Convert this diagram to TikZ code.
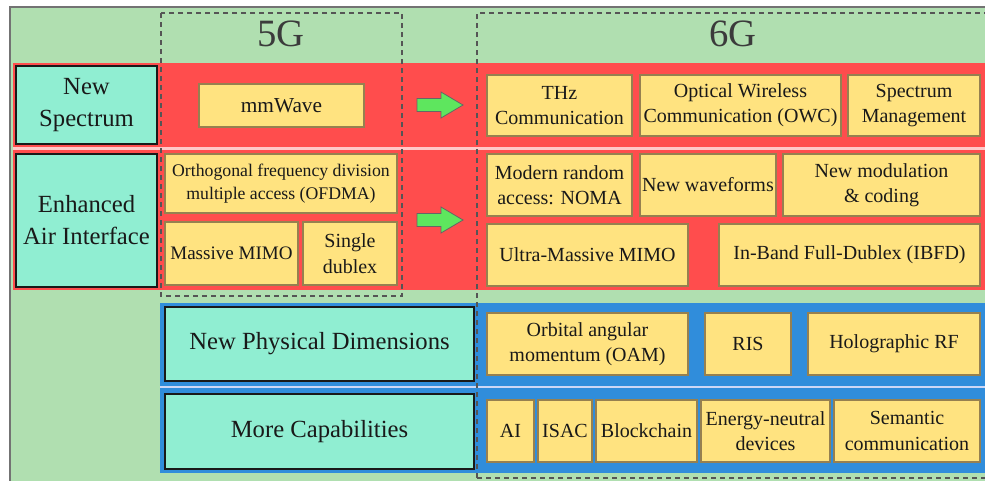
\documentclass[tikz,border=0pt]{standalone}
\usepackage{fontspec}
\setmainfont{Liberation Serif}
\definecolor{bggreen}{RGB}{176,223,176}
\definecolor{bandred}{RGB}{255,77,77}
\definecolor{bandblue}{RGB}{48,141,219}
\definecolor{catfill}{RGB}{144,238,210}
\definecolor{itemfill}{RGB}{255,227,128}
\definecolor{itemline}{RGB}{150,128,80}
\definecolor{arrowfill}{RGB}{94,230,94}
\definecolor{ink}{RGB}{25,25,25}
\definecolor{dashgray}{RGB}{85,85,85}
\definecolor{pinkline}{RGB}{255,200,200}
\definecolor{lavline}{RGB}{205,215,245}
\tikzset{
  cat/.style={draw=ink, line width=1.5pt, fill=catfill, align=center,
    inner sep=0pt, text=ink, font=\fontsize{18.5}{24}\selectfont},
  item/.style={draw=itemline, line width=0.8pt, fill=itemfill, align=center,
    inner sep=0pt, text=ink, font=\fontsize{15}{19}\selectfont},
  small/.style={font=\fontsize{13.3}{17}\selectfont},
  genframe/.style={draw=dashgray, line width=1.1pt, dash pattern=on 3.75pt off 3pt},
  genlabel/.style={text=dashgray!70!black, font=\fontsize{29}{30}\selectfont},
  shift arrow/.style={fill=arrowfill, draw=black!60, line width=0.6pt}
}
% box from its two corners (in pixel units): style, name, x1, y1, x2, y2, text
\newcommand\pbox[7]{%
  \node[#1, minimum width={(#5-#3)*0.75pt}, minimum height={(#6-#4)*0.75pt}]
    (#2) at ({(#3+#5)/2},{(#4+#6)/2}) {#7};}
\begin{document}
\begin{tikzpicture}[x=0.75pt, y=-0.75pt]
\clip (0,0) rectangle (985,480);
\fill[white] (0,0) rectangle (985,480);
% background panel
\fill[bggreen] (10,7) rectangle (990,485);
\draw[black!55, line width=0.9pt] (10,485) -- (10,7) -- (990,7);

% coloured bands
\fill[bandred] (13,63) rectangle (990,290);
\draw[pinkline, line width=1.6pt] (13,148.5) -- (990,148.5);
\fill[bandblue] (160,303) rectangle (990,473);
\draw[lavline, line width=1.6pt] (160,387) -- (990,387);

% generation frames
\draw[genframe] (161,13) rectangle (402,296);
\draw[genframe] (477,478) -- (477,13) -- (995,13);
\draw[genframe] (477,478) -- (995,478);
\node[genlabel] (g5) at (281,34) {5G};
\node[genlabel] (g6) at (733,34) {6G};

% category boxes
\pbox{cat}{spec}{16}{66}{157}{144}{New\\Spectrum}
\pbox{cat}{air}{16}{154}{157}{287}{Enhanced\\Air Interface}
\pbox{cat}{phys}{165}{307}{474}{381}{New Physical Dimensions}
\pbox{cat}{capab}{165}{394}{474}{469}{More Capabilities}

% 5G technologies
\pbox{item,font=\fontsize{16}{20}\selectfont}{mmw}{199}{84}{364}{127}{mmWave}
\pbox{item,small}{ofdma}{165}{154}{397}{213}{Orthogonal frequency division\\multiple access (OFDMA)}
\pbox{item,font=\fontsize{14.3}{19}\selectfont}{mimo}{165}{222}{298}{285}{Massive MIMO}
\pbox{item}{sdx}{303}{222}{397}{285}{Single\\dublex}

% evolution arrows
\fill[shift arrow] (417,98.5) -- (441,98.5) -- (441,92) -- (463,105) -- (441,118)
  -- (441,111.5) -- (417,111.5) -- cycle;
\fill[shift arrow] (417,213.5) -- (441,213.5) -- (441,207) -- (463,220) -- (441,233)
  -- (441,226.5) -- (417,226.5) -- cycle;

% 6G: new spectrum
\pbox{item}{thz}{487}{75}{632}{136}{THz\\Communication}
\pbox{item}{owc}{640}{75}{841}{136}{Optical Wireless\\Communication (OWC)}
\pbox{item}{smg}{848}{75}{980}{136}{Spectrum\\Management}

% 6G: enhanced air interface
\pbox{item}{noma}{487}{154}{632}{216}{Modern random\\access: NOMA}
\pbox{item}{wave}{640}{154}{776}{216}{New waveforms}
\pbox{item}{modc}{783}{154}{980}{216}{New modulation\\\& coding}
\pbox{item}{umimo}{487}{224}{688}{286}{Ultra-Massive MIMO}
\pbox{item}{ibfd}{719}{224}{980}{286}{In-Band Full-Dublex (IBFD)}

% 6G: new physical dimensions
\pbox{item}{oam}{487}{313}{688}{375}{Orbital angular\\momentum (OAM)}
\pbox{item}{ris}{705}{313}{791}{375}{RIS}
\pbox{item}{holo}{808}{313}{980}{375}{Holographic RF}

% 6G: more capabilities
\pbox{item}{ai}{487}{400}{534}{462}{AI}
\pbox{item}{isac}{538}{400}{592}{462}{ISAC}
\pbox{item}{chain}{596}{400}{697}{462}{Blockchain}
\pbox{item}{enz}{701}{400}{830}{462}{Energy-neutral\\devices}
\pbox{item}{sem}{834}{400}{980}{462}{Semantic\\communication}
\end{tikzpicture}
\end{document}
